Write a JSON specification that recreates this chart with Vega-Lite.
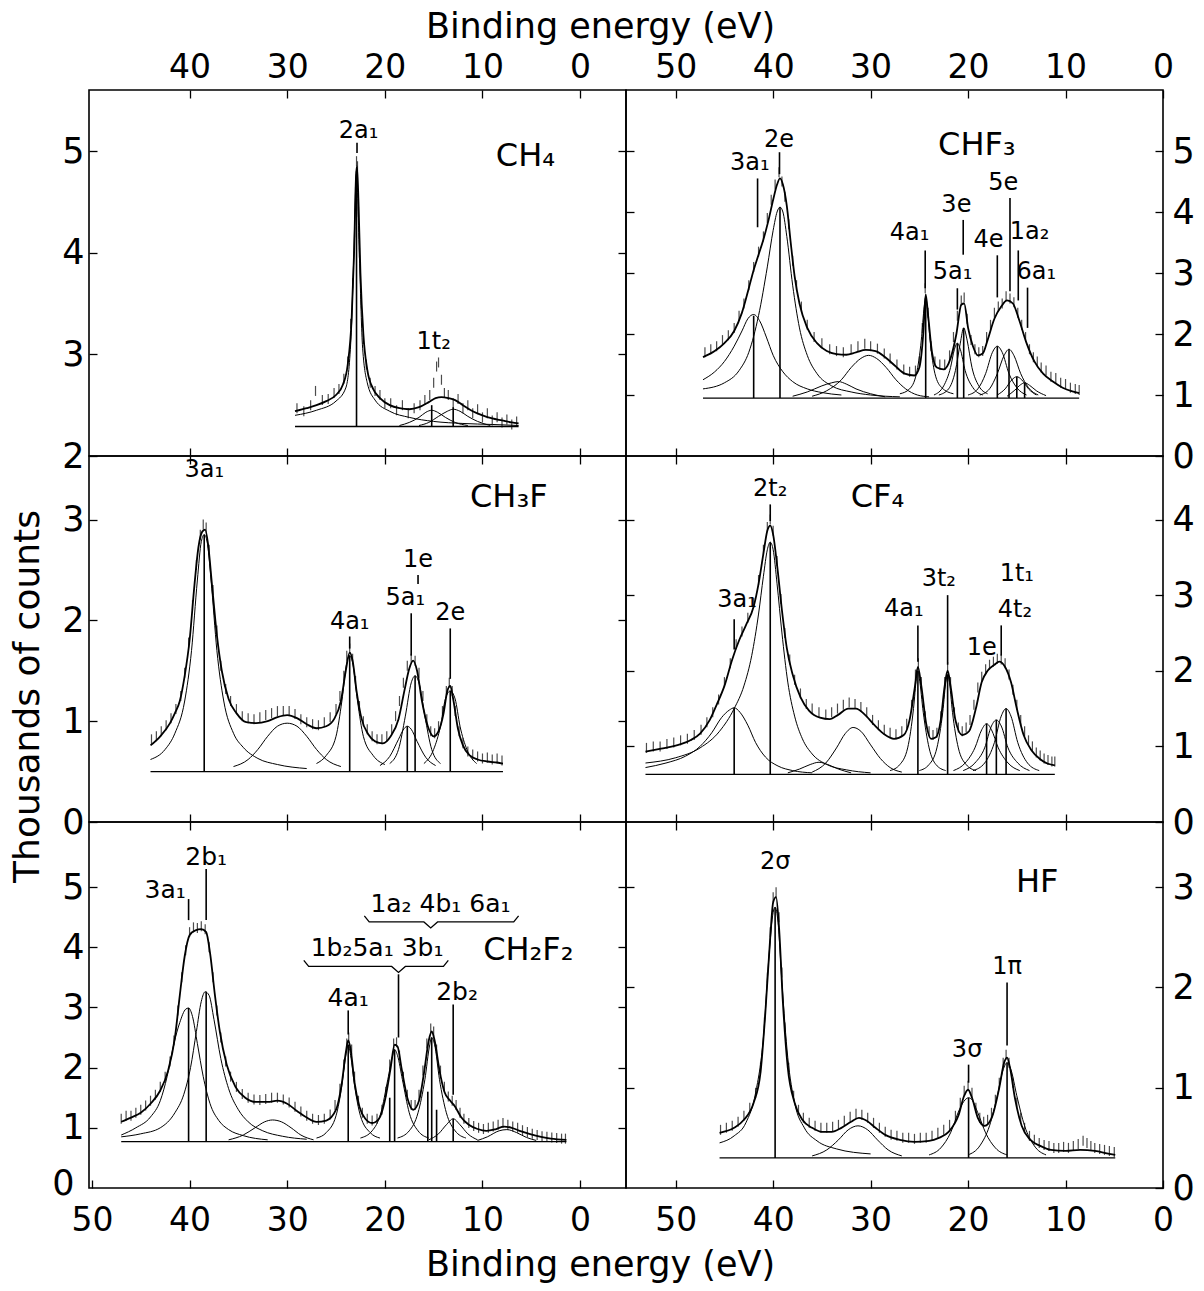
{
"$schema": "https://vega.github.io/schema/vega-lite/v6.json",
"padding": {"left": 8, "top": 8, "right": 5, "bottom": 5},
"background": "white",
"columns": 2,
"spacing": 0,
"bounds": "flush",
"config": {
 "view": {"stroke": "black", "strokeWidth": 1.6},
 "mark": {"color": "black"},
 "axis": {"domain": false, "grid": false, "ticks": true, "tickColor": "black", "tickWidth": 1.3, "tickSize": -8, "labelColor": "black", "labelFont": "DejaVu Sans", "labelFontSize": 33, "titleFont": "DejaVu Sans", "titleFontSize": 35, "titleFontWeight": "normal", "titleColor": "black", "labelOverlap": false, "labelFlush": false, "labelBound": false},
 "axisY": {"labelFontSize": 35},
 "text": {"font": "DejaVu Sans"}
},
"datasets": {
"ch4": [
{"k":"b","e":29.2,"e2":6.3,"v":2.29},
{"k":"f","e":29.2,"v":2.44},{"k":"f","e":28,"v":2.47},{"k":"f","e":27,"v":2.5},{"k":"f","e":26,"v":2.54},{"k":"f","e":25,"v":2.6},{"k":"f","e":24.3,"v":2.7},{"k":"f","e":23.8,"v":2.9},{"k":"f","e":23.4,"v":3.35},{"k":"f","e":23.15,"v":4.0},{"k":"f","e":22.95,"v":4.75},{"k":"f","e":22.85,"v":4.85},{"k":"f","e":22.7,"v":4.5},{"k":"f","e":22.5,"v":3.8},{"k":"f","e":22.2,"v":3.2},{"k":"f","e":21.8,"v":2.85},{"k":"f","e":21.2,"v":2.66},{"k":"f","e":20.5,"v":2.57},{"k":"f","e":19.5,"v":2.5},{"k":"f","e":18.5,"v":2.47},{"k":"f","e":17.5,"v":2.46},{"k":"f","e":16.5,"v":2.48},{"k":"f","e":15.5,"v":2.53},{"k":"f","e":14.8,"v":2.57},{"k":"f","e":14.2,"v":2.58},{"k":"f","e":13.5,"v":2.57},{"k":"f","e":12.8,"v":2.55},{"k":"f","e":12,"v":2.5},{"k":"f","e":11,"v":2.44},{"k":"f","e":10,"v":2.4},{"k":"f","e":9,"v":2.37},{"k":"f","e":8,"v":2.35},{"k":"f","e":7,"v":2.33},{"k":"f","e":6.3,"v":2.32},
{"k":"c","i":"a","e":29.2,"v":2.4},{"k":"c","i":"a","e":27,"v":2.45},{"k":"c","i":"a","e":25,"v":2.54},{"k":"c","i":"a","e":24,"v":2.67},{"k":"c","i":"a","e":23.5,"v":3.1},{"k":"c","i":"a","e":23.2,"v":3.9},{"k":"c","i":"a","e":22.9,"v":4.78},{"k":"c","i":"a","e":22.6,"v":3.95},{"k":"c","i":"a","e":22.3,"v":3.1},{"k":"c","i":"a","e":21.8,"v":2.72},{"k":"c","i":"a","e":21,"v":2.55},{"k":"c","i":"a","e":19.5,"v":2.44},{"k":"c","i":"a","e":17.5,"v":2.38},{"k":"c","i":"a","e":15,"v":2.34},{"k":"c","i":"a","e":12,"v":2.32},{"k":"c","i":"a","e":9,"v":2.31},{"k":"c","i":"a","e":6.3,"v":2.3},
{"k":"c","i":"b","e":18.5,"v":2.3},{"k":"c","i":"b","e":17.5,"v":2.33},{"k":"c","i":"b","e":16.5,"v":2.38},{"k":"c","i":"b","e":15.8,"v":2.43},{"k":"c","i":"b","e":15.2,"v":2.45},{"k":"c","i":"b","e":14.6,"v":2.43},{"k":"c","i":"b","e":13.8,"v":2.38},{"k":"c","i":"b","e":12.8,"v":2.33},{"k":"c","i":"b","e":11.5,"v":2.3},
{"k":"c","i":"c","e":16.5,"v":2.3},{"k":"c","i":"c","e":15.5,"v":2.33},{"k":"c","i":"c","e":14.5,"v":2.39},{"k":"c","i":"c","e":13.6,"v":2.44},{"k":"c","i":"c","e":13.0,"v":2.46},{"k":"c","i":"c","e":12.3,"v":2.44},{"k":"c","i":"c","e":11.5,"v":2.39},{"k":"c","i":"c","e":10.5,"v":2.34},{"k":"c","i":"c","e":9.2,"v":2.3},
{"k":"p","e":29.0,"v":2.47},{"k":"p","e":28.3,"v":2.44},{"k":"p","e":27.6,"v":2.5},{"k":"p","e":27.1,"v":2.64},{"k":"p","e":26.4,"v":2.55},{"k":"p","e":25.8,"v":2.56},{"k":"p","e":25.2,"v":2.62},{"k":"p","e":24.7,"v":2.66},{"k":"p","e":24.2,"v":2.76},{"k":"p","e":23.8,"v":2.93},{"k":"p","e":23.5,"v":3.3},{"k":"p","e":23.3,"v":3.7},{"k":"p","e":23.1,"v":4.2},{"k":"p","e":23.0,"v":4.6},{"k":"p","e":22.9,"v":4.9},{"k":"p","e":22.8,"v":4.85},{"k":"p","e":22.7,"v":4.4},{"k":"p","e":22.6,"v":4.0},{"k":"p","e":22.4,"v":3.5},{"k":"p","e":22.2,"v":3.15},{"k":"p","e":21.9,"v":2.9},{"k":"p","e":21.5,"v":2.72},{"k":"p","e":21.0,"v":2.64},{"k":"p","e":20.5,"v":2.6},{"k":"p","e":20,"v":2.52},{"k":"p","e":19.4,"v":2.52},{"k":"p","e":18.8,"v":2.45},{"k":"p","e":18.2,"v":2.5},{"k":"p","e":17.6,"v":2.42},{"k":"p","e":17,"v":2.47},{"k":"p","e":16.4,"v":2.5},{"k":"p","e":15.9,"v":2.55},{"k":"p","e":15.4,"v":2.6},{"k":"p","e":15,"v":2.72},{"k":"p","e":14.7,"v":2.88},{"k":"p","e":14.5,"v":2.92},{"k":"p","e":14.2,"v":2.75},{"k":"p","e":13.9,"v":2.62},{"k":"p","e":13.5,"v":2.6},{"k":"p","e":13,"v":2.52},{"k":"p","e":12.5,"v":2.56},{"k":"p","e":12,"v":2.47},{"k":"p","e":11.5,"v":2.5},{"k":"p","e":11,"v":2.42},{"k":"p","e":10.5,"v":2.46},{"k":"p","e":10,"v":2.38},{"k":"p","e":9.5,"v":2.42},{"k":"p","e":9,"v":2.35},{"k":"p","e":8.5,"v":2.38},{"k":"p","e":8,"v":2.33},{"k":"p","e":7.5,"v":2.36},{"k":"p","e":7,"v":2.31},{"k":"p","e":6.5,"v":2.34},
{"k":"l","e":22.9,"v":2.29,"v2":4.8},{"k":"l","e":15.2,"v":2.29,"v2":2.5},{"k":"l","e":13.0,"v":2.29,"v2":2.48},{"k":"l","e":22.85,"v":5.08,"v2":4.98},
{"k":"t","e":22.7,"v":5.2,"t":"2a₁"},{"k":"t","e":15.0,"v":3.12,"t":"1t₂"},
{"k":"m","e":5.6,"v":4.95,"t":"CH₄"}
],
"chf3": [
{"k":"b","e":47.2,"e2":8.6,"v":0.95},
{"k":"f","e":47.2,"v":1.62},{"k":"f","e":46,"v":1.72},{"k":"f","e":45,"v":1.85},{"k":"f","e":44,"v":2.05},{"k":"f","e":43.2,"v":2.35},{"k":"f","e":42.5,"v":2.75},{"k":"f","e":42,"v":3.05},{"k":"f","e":41.5,"v":3.3},{"k":"f","e":41,"v":3.55},{"k":"f","e":40.5,"v":3.85},{"k":"f","e":40,"v":4.2},{"k":"f","e":39.6,"v":4.45},{"k":"f","e":39.3,"v":4.55},{"k":"f","e":39.0,"v":4.45},{"k":"f","e":38.6,"v":4.1},{"k":"f","e":38.2,"v":3.5},{"k":"f","e":37.8,"v":2.95},{"k":"f","e":37.3,"v":2.5},{"k":"f","e":36.5,"v":2.1},{"k":"f","e":35.5,"v":1.85},{"k":"f","e":34.5,"v":1.72},{"k":"f","e":33.5,"v":1.67},{"k":"f","e":32.5,"v":1.66},{"k":"f","e":31.5,"v":1.7},{"k":"f","e":30.5,"v":1.74},{"k":"f","e":29.5,"v":1.72},{"k":"f","e":28.5,"v":1.62},{"k":"f","e":27.5,"v":1.48},{"k":"f","e":26.5,"v":1.35},{"k":"f","e":25.5,"v":1.32},{"k":"f","e":25,"v":1.45},{"k":"f","e":24.6,"v":2.0},{"k":"f","e":24.35,"v":2.65},{"k":"f","e":24.1,"v":2.3},{"k":"f","e":23.7,"v":1.7},{"k":"f","e":23.2,"v":1.45},{"k":"f","e":22.5,"v":1.42},{"k":"f","e":21.8,"v":1.6},{"k":"f","e":21.2,"v":2.0},{"k":"f","e":20.7,"v":2.48},{"k":"f","e":20.4,"v":2.5},{"k":"f","e":20.0,"v":2.1},{"k":"f","e":19.5,"v":1.8},{"k":"f","e":19.0,"v":1.65},{"k":"f","e":18.5,"v":1.68},{"k":"f","e":18.0,"v":1.9},{"k":"f","e":17.3,"v":2.25},{"k":"f","e":16.6,"v":2.45},{"k":"f","e":16.0,"v":2.55},{"k":"f","e":15.4,"v":2.5},{"k":"f","e":14.8,"v":2.25},{"k":"f","e":14.0,"v":1.85},{"k":"f","e":13.2,"v":1.55},{"k":"f","e":12.3,"v":1.35},{"k":"f","e":11.3,"v":1.22},{"k":"f","e":10.3,"v":1.12},{"k":"f","e":9.3,"v":1.06},{"k":"f","e":8.6,"v":1.03},
{"k":"c","i":"a","e":47.2,"v":1.25},{"k":"c","i":"a","e":46,"v":1.38},{"k":"c","i":"a","e":45,"v":1.55},{"k":"c","i":"a","e":44,"v":1.8},{"k":"c","i":"a","e":43.2,"v":2.05},{"k":"c","i":"a","e":42.6,"v":2.25},{"k":"c","i":"a","e":42.0,"v":2.32},{"k":"c","i":"a","e":41.4,"v":2.22},{"k":"c","i":"a","e":40.7,"v":1.95},{"k":"c","i":"a","e":40,"v":1.65},{"k":"c","i":"a","e":39,"v":1.38},{"k":"c","i":"a","e":38,"v":1.22},{"k":"c","i":"a","e":36.5,"v":1.1},{"k":"c","i":"a","e":35,"v":1.04},{"k":"c","i":"a","e":33,"v":1.0},
{"k":"c","i":"b","e":47.2,"v":1.1},{"k":"c","i":"b","e":45,"v":1.2},{"k":"c","i":"b","e":43.5,"v":1.4},{"k":"c","i":"b","e":42.5,"v":1.7},{"k":"c","i":"b","e":41.5,"v":2.3},{"k":"c","i":"b","e":40.6,"v":3.1},{"k":"c","i":"b","e":40,"v":3.7},{"k":"c","i":"b","e":39.6,"v":4.0},{"k":"c","i":"b","e":39.3,"v":4.08},{"k":"c","i":"b","e":39.0,"v":4.0},{"k":"c","i":"b","e":38.6,"v":3.6},{"k":"c","i":"b","e":38.0,"v":2.8},{"k":"c","i":"b","e":37.3,"v":2.1},{"k":"c","i":"b","e":36.5,"v":1.65},{"k":"c","i":"b","e":35.5,"v":1.35},{"k":"c","i":"b","e":34,"v":1.15},{"k":"c","i":"b","e":32,"v":1.05},{"k":"c","i":"b","e":30,"v":1.0},{"k":"c","i":"b","e":27,"v":0.97},
{"k":"c","i":"c","e":38,"v":0.98},{"k":"c","i":"c","e":36.5,"v":1.05},{"k":"c","i":"c","e":35,"v":1.15},{"k":"c","i":"c","e":34,"v":1.2},{"k":"c","i":"c","e":33.3,"v":1.22},{"k":"c","i":"c","e":32.5,"v":1.18},{"k":"c","i":"c","e":31.5,"v":1.1},{"k":"c","i":"c","e":30,"v":1.02},{"k":"c","i":"c","e":28.5,"v":0.97},
{"k":"c","i":"d","e":36,"v":0.98},{"k":"c","i":"d","e":34.5,"v":1.07},{"k":"c","i":"d","e":33,"v":1.25},{"k":"c","i":"d","e":32,"v":1.45},{"k":"c","i":"d","e":31,"v":1.6},{"k":"c","i":"d","e":30.2,"v":1.65},{"k":"c","i":"d","e":29.4,"v":1.6},{"k":"c","i":"d","e":28.4,"v":1.45},{"k":"c","i":"d","e":27.4,"v":1.25},{"k":"c","i":"d","e":26.4,"v":1.1},{"k":"c","i":"d","e":25.2,"v":1.0},{"k":"c","i":"d","e":24,"v":0.97},
{"k":"c","i":"e","e":27,"v":1.02},{"k":"c","i":"e","e":26,"v":1.1},{"k":"c","i":"e","e":25.3,"v":1.35},{"k":"c","i":"e","e":24.8,"v":1.9},{"k":"c","i":"e","e":24.5,"v":2.45},{"k":"c","i":"e","e":24.35,"v":2.6},{"k":"c","i":"e","e":24.2,"v":2.45},{"k":"c","i":"e","e":23.9,"v":1.9},{"k":"c","i":"e","e":23.4,"v":1.35},{"k":"c","i":"e","e":22.7,"v":1.12},{"k":"c","i":"e","e":21.5,"v":1.02},
{"k":"c","i":"g","e":23.5,"v":1.0},{"k":"c","i":"g","e":22.5,"v":1.15},{"k":"c","i":"g","e":21.8,"v":1.45},{"k":"c","i":"g","e":21.4,"v":1.75},{"k":"c","i":"g","e":21.1,"v":1.85},{"k":"c","i":"g","e":20.8,"v":1.75},{"k":"c","i":"g","e":20.3,"v":1.4},{"k":"c","i":"g","e":19.5,"v":1.12},{"k":"c","i":"g","e":18.5,"v":1.0},
{"k":"c","i":"h","e":23,"v":1.0},{"k":"c","i":"h","e":22,"v":1.1},{"k":"c","i":"h","e":21.3,"v":1.4},{"k":"c","i":"h","e":20.8,"v":1.85},{"k":"c","i":"h","e":20.45,"v":2.1},{"k":"c","i":"h","e":20.1,"v":1.9},{"k":"c","i":"h","e":19.6,"v":1.45},{"k":"c","i":"h","e":18.9,"v":1.15},{"k":"c","i":"h","e":18,"v":1.02},
{"k":"c","i":"j","e":20,"v":1.0},{"k":"c","i":"j","e":19,"v":1.1},{"k":"c","i":"j","e":18.2,"v":1.35},{"k":"c","i":"j","e":17.5,"v":1.7},{"k":"c","i":"j","e":17.0,"v":1.8},{"k":"c","i":"j","e":16.5,"v":1.7},{"k":"c","i":"j","e":15.8,"v":1.35},{"k":"c","i":"j","e":15,"v":1.12},{"k":"c","i":"j","e":14,"v":1.0},
{"k":"c","i":"m","e":18.8,"v":1.0},{"k":"c","i":"m","e":17.8,"v":1.1},{"k":"c","i":"m","e":17,"v":1.35},{"k":"c","i":"m","e":16.3,"v":1.65},{"k":"c","i":"m","e":15.8,"v":1.75},{"k":"c","i":"m","e":15.3,"v":1.65},{"k":"c","i":"m","e":14.6,"v":1.35},{"k":"c","i":"m","e":13.8,"v":1.12},{"k":"c","i":"m","e":12.8,"v":1.0},
{"k":"c","i":"n","e":17,"v":1.0},{"k":"c","i":"n","e":16.2,"v":1.1},{"k":"c","i":"n","e":15.5,"v":1.25},{"k":"c","i":"n","e":15,"v":1.3},{"k":"c","i":"n","e":14.5,"v":1.25},{"k":"c","i":"n","e":13.8,"v":1.1},{"k":"c","i":"n","e":13,"v":1.0},
{"k":"c","i":"o","e":16,"v":0.98},{"k":"c","i":"o","e":15.2,"v":1.08},{"k":"c","i":"o","e":14.6,"v":1.17},{"k":"c","i":"o","e":14.2,"v":1.2},{"k":"c","i":"o","e":13.7,"v":1.16},{"k":"c","i":"o","e":13,"v":1.07},{"k":"c","i":"o","e":12,"v":0.99},
{"k":"p","e":47.0,"v":1.7},{"k":"p","e":46.4,"v":1.75},{"k":"p","e":45.8,"v":1.8},{"k":"p","e":45.2,"v":1.9},{"k":"p","e":44.6,"v":1.98},{"k":"p","e":44.0,"v":2.1},{"k":"p","e":43.5,"v":2.3},{"k":"p","e":43.0,"v":2.5},{"k":"p","e":42.5,"v":2.8},{"k":"p","e":42.0,"v":3.1},{"k":"p","e":41.5,"v":3.35},{"k":"p","e":41.0,"v":3.6},{"k":"p","e":40.6,"v":3.9},{"k":"p","e":40.2,"v":4.2},{"k":"p","e":39.8,"v":4.45},{"k":"p","e":39.4,"v":4.65},{"k":"p","e":39.1,"v":4.5},{"k":"p","e":38.8,"v":4.25},{"k":"p","e":38.4,"v":3.8},{"k":"p","e":38.0,"v":3.2},{"k":"p","e":37.6,"v":2.8},{"k":"p","e":37.1,"v":2.45},{"k":"p","e":36.5,"v":2.15},{"k":"p","e":35.8,"v":1.95},{"k":"p","e":35.0,"v":1.85},{"k":"p","e":34.2,"v":1.75},{"k":"p","e":33.5,"v":1.72},{"k":"p","e":32.8,"v":1.7},{"k":"p","e":32.0,"v":1.75},{"k":"p","e":31.3,"v":1.8},{"k":"p","e":30.6,"v":1.84},{"k":"p","e":30.0,"v":1.8},{"k":"p","e":29.3,"v":1.76},{"k":"p","e":28.6,"v":1.68},{"k":"p","e":28.0,"v":1.6},{"k":"p","e":27.3,"v":1.5},{"k":"p","e":26.6,"v":1.42},{"k":"p","e":26.0,"v":1.38},{"k":"p","e":25.4,"v":1.4},{"k":"p","e":25.0,"v":1.55},{"k":"p","e":24.7,"v":2.1},{"k":"p","e":24.4,"v":2.75},{"k":"p","e":24.1,"v":2.35},{"k":"p","e":23.8,"v":1.8},{"k":"p","e":23.4,"v":1.55},{"k":"p","e":22.9,"v":1.5},{"k":"p","e":22.4,"v":1.5},{"k":"p","e":21.9,"v":1.65},{"k":"p","e":21.5,"v":1.95},{"k":"p","e":21.1,"v":2.3},{"k":"p","e":20.7,"v":2.55},{"k":"p","e":20.4,"v":2.6},{"k":"p","e":20.1,"v":2.25},{"k":"p","e":19.7,"v":1.9},{"k":"p","e":19.3,"v":1.75},{"k":"p","e":18.9,"v":1.7},{"k":"p","e":18.5,"v":1.72},{"k":"p","e":18.1,"v":1.95},{"k":"p","e":17.7,"v":2.15},{"k":"p","e":17.3,"v":2.35},{"k":"p","e":16.9,"v":2.45},{"k":"p","e":16.5,"v":2.5},{"k":"p","e":16.1,"v":2.62},{"k":"p","e":15.7,"v":2.58},{"k":"p","e":15.3,"v":2.52},{"k":"p","e":14.9,"v":2.35},{"k":"p","e":14.5,"v":2.15},{"k":"p","e":14.1,"v":1.95},{"k":"p","e":13.7,"v":1.75},{"k":"p","e":13.3,"v":1.62},{"k":"p","e":12.9,"v":1.55},{"k":"p","e":12.5,"v":1.45},{"k":"p","e":12.0,"v":1.4},{"k":"p","e":11.5,"v":1.3},{"k":"p","e":11.0,"v":1.28},{"k":"p","e":10.5,"v":1.2},{"k":"p","e":10.0,"v":1.18},{"k":"p","e":9.5,"v":1.12},{"k":"p","e":9.0,"v":1.1},{"k":"p","e":8.6,"v":1.08},
{"k":"l","e":42.0,"v":0.95,"v2":2.3},{"k":"l","e":39.3,"v":0.95,"v2":4.08},{"k":"l","e":24.35,"v":0.95,"v2":2.6},{"k":"l","e":21.1,"v":0.95,"v2":1.85},{"k":"l","e":20.45,"v":0.95,"v2":2.1},{"k":"l","e":17.0,"v":0.95,"v2":1.8},{"k":"l","e":15.8,"v":0.95,"v2":1.75},{"k":"l","e":15.0,"v":0.95,"v2":1.3},{"k":"l","e":14.2,"v":0.95,"v2":1.2},
{"k":"l","e":41.6,"v":4.55,"v2":3.75},{"k":"l","e":39.35,"v":4.98,"v2":4.62},{"k":"l","e":24.4,"v":3.37,"v2":2.75},{"k":"l","e":20.5,"v":3.87,"v2":3.3},{"k":"l","e":21.1,"v":2.75,"v2":2.4},{"k":"l","e":15.7,"v":4.23,"v2":2.7},{"k":"l","e":17.0,"v":3.29,"v2":2.6},{"k":"l","e":14.85,"v":3.37,"v2":2.55},{"k":"l","e":13.9,"v":2.76,"v2":2.1},
{"k":"t","e":42.4,"v":4.8,"t":"3a₁"},{"k":"t","e":39.4,"v":5.18,"t":"2e"},{"k":"t","e":26.0,"v":3.65,"t":"4a₁"},{"k":"t","e":21.2,"v":4.11,"t":"3e"},{"k":"t","e":21.6,"v":3.01,"t":"5a₁"},{"k":"t","e":16.4,"v":4.47,"t":"5e"},{"k":"t","e":17.9,"v":3.54,"t":"4e"},{"k":"t","e":13.7,"v":3.67,"t":"1a₂"},{"k":"t","e":13.0,"v":3.01,"t":"6a₁"},
{"k":"m","e":19.1,"v":5.1,"t":"CHF₃"}
],
"ch3f": [
{"k":"b","e":44.0,"e2":7.9,"v":0.5},
{"k":"f","e":44.0,"v":0.76},{"k":"f","e":43.0,"v":0.85},{"k":"f","e":42.0,"v":0.98},{"k":"f","e":41.5,"v":1.08},{"k":"f","e":41.0,"v":1.2},{"k":"f","e":40.5,"v":1.45},{"k":"f","e":40.0,"v":1.8},{"k":"f","e":39.5,"v":2.35},{"k":"f","e":39.1,"v":2.72},{"k":"f","e":38.7,"v":2.88},{"k":"f","e":38.4,"v":2.9},{"k":"f","e":38.1,"v":2.75},{"k":"f","e":37.7,"v":2.35},{"k":"f","e":37.2,"v":1.85},{"k":"f","e":36.7,"v":1.5},{"k":"f","e":36.0,"v":1.22},{"k":"f","e":35.2,"v":1.08},{"k":"f","e":34.2,"v":0.99},{"k":"f","e":33.2,"v":0.98},{"k":"f","e":32.0,"v":1.0},{"k":"f","e":31.0,"v":1.04},{"k":"f","e":30.0,"v":1.06},{"k":"f","e":29.0,"v":1.03},{"k":"f","e":28.0,"v":0.97},{"k":"f","e":27.0,"v":0.93},{"k":"f","e":26.0,"v":0.95},{"k":"f","e":25.2,"v":1.02},{"k":"f","e":24.5,"v":1.2},{"k":"f","e":24.0,"v":1.5},{"k":"f","e":23.6,"v":1.68},{"k":"f","e":23.3,"v":1.6},{"k":"f","e":22.9,"v":1.3},{"k":"f","e":22.4,"v":1.03},{"k":"f","e":21.7,"v":0.87},{"k":"f","e":21.0,"v":0.8},{"k":"f","e":20.2,"v":0.78},{"k":"f","e":19.4,"v":0.85},{"k":"f","e":18.6,"v":1.02},{"k":"f","e":18.0,"v":1.3},{"k":"f","e":17.5,"v":1.52},{"k":"f","e":17.1,"v":1.6},{"k":"f","e":16.7,"v":1.5},{"k":"f","e":16.2,"v":1.2},{"k":"f","e":15.6,"v":0.95},{"k":"f","e":15.0,"v":0.85},{"k":"f","e":14.5,"v":0.9},{"k":"f","e":14.0,"v":1.07},{"k":"f","e":13.6,"v":1.3},{"k":"f","e":13.3,"v":1.35},{"k":"f","e":13.0,"v":1.22},{"k":"f","e":12.5,"v":0.92},{"k":"f","e":12.0,"v":0.76},{"k":"f","e":11.3,"v":0.66},{"k":"f","e":10.5,"v":0.62},{"k":"f","e":9.5,"v":0.6},{"k":"f","e":8.5,"v":0.59},{"k":"f","e":7.9,"v":0.58},
{"k":"c","i":"a","e":44,"v":0.62},{"k":"c","i":"a","e":42.5,"v":0.72},{"k":"c","i":"a","e":41.5,"v":0.88},{"k":"c","i":"a","e":40.5,"v":1.2},{"k":"c","i":"a","e":39.8,"v":1.7},{"k":"c","i":"a","e":39.2,"v":2.4},{"k":"c","i":"a","e":38.8,"v":2.78},{"k":"c","i":"a","e":38.5,"v":2.85},{"k":"c","i":"a","e":38.2,"v":2.78},{"k":"c","i":"a","e":37.8,"v":2.4},{"k":"c","i":"a","e":37.2,"v":1.7},{"k":"c","i":"a","e":36.5,"v":1.2},{"k":"c","i":"a","e":35.5,"v":0.88},{"k":"c","i":"a","e":34.5,"v":0.74},{"k":"c","i":"a","e":33,"v":0.63},{"k":"c","i":"a","e":31,"v":0.57},{"k":"c","i":"a","e":28,"v":0.53},
{"k":"c","i":"b","e":35.5,"v":0.55},{"k":"c","i":"b","e":34,"v":0.62},{"k":"c","i":"b","e":33,"v":0.72},{"k":"c","i":"b","e":32,"v":0.85},{"k":"c","i":"b","e":31,"v":0.95},{"k":"c","i":"b","e":30,"v":0.98},{"k":"c","i":"b","e":29,"v":0.95},{"k":"c","i":"b","e":28,"v":0.85},{"k":"c","i":"b","e":27,"v":0.72},{"k":"c","i":"b","e":26,"v":0.62},{"k":"c","i":"b","e":24.5,"v":0.55},
{"k":"c","i":"c","e":27,"v":0.58},{"k":"c","i":"c","e":26,"v":0.66},{"k":"c","i":"c","e":25,"v":0.85},{"k":"c","i":"c","e":24.4,"v":1.2},{"k":"c","i":"c","e":23.9,"v":1.58},{"k":"c","i":"c","e":23.6,"v":1.65},{"k":"c","i":"c","e":23.3,"v":1.58},{"k":"c","i":"c","e":22.8,"v":1.2},{"k":"c","i":"c","e":22.2,"v":0.85},{"k":"c","i":"c","e":21.2,"v":0.66},{"k":"c","i":"c","e":20,"v":0.57},
{"k":"c","i":"d","e":20.5,"v":0.56},{"k":"c","i":"d","e":19.5,"v":0.65},{"k":"c","i":"d","e":18.6,"v":0.82},{"k":"c","i":"d","e":18.0,"v":0.93},{"k":"c","i":"d","e":17.7,"v":0.95},{"k":"c","i":"d","e":17.3,"v":0.92},{"k":"c","i":"d","e":16.7,"v":0.8},{"k":"c","i":"d","e":15.8,"v":0.64},{"k":"c","i":"d","e":14.8,"v":0.56},
{"k":"c","i":"g","e":19.5,"v":0.58},{"k":"c","i":"g","e":18.6,"v":0.72},{"k":"c","i":"g","e":17.9,"v":1.05},{"k":"c","i":"g","e":17.3,"v":1.38},{"k":"c","i":"g","e":16.9,"v":1.45},{"k":"c","i":"g","e":16.5,"v":1.38},{"k":"c","i":"g","e":15.9,"v":1.05},{"k":"c","i":"g","e":15.2,"v":0.72},{"k":"c","i":"g","e":14.3,"v":0.58},
{"k":"c","i":"h","e":16,"v":0.58},{"k":"c","i":"h","e":15.0,"v":0.72},{"k":"c","i":"h","e":14.3,"v":0.95},{"k":"c","i":"h","e":13.8,"v":1.22},{"k":"c","i":"h","e":13.3,"v":1.3},{"k":"c","i":"h","e":12.8,"v":1.22},{"k":"c","i":"h","e":12.3,"v":0.95},{"k":"c","i":"h","e":11.6,"v":0.72},{"k":"c","i":"h","e":10.6,"v":0.58},
{"k":"p","e":43.9,"v":0.82},{"k":"p","e":43.4,"v":0.85},{"k":"p","e":42.9,"v":0.9},{"k":"p","e":42.4,"v":0.96},{"k":"p","e":41.9,"v":1.03},{"k":"p","e":41.4,"v":1.12},{"k":"p","e":40.9,"v":1.25},{"k":"p","e":40.5,"v":1.48},{"k":"p","e":40.1,"v":1.78},{"k":"p","e":39.7,"v":2.15},{"k":"p","e":39.3,"v":2.55},{"k":"p","e":38.9,"v":2.85},{"k":"p","e":38.6,"v":2.95},{"k":"p","e":38.3,"v":2.92},{"k":"p","e":38.0,"v":2.7},{"k":"p","e":37.6,"v":2.3},{"k":"p","e":37.2,"v":1.9},{"k":"p","e":36.8,"v":1.55},{"k":"p","e":36.3,"v":1.32},{"k":"p","e":35.8,"v":1.2},{"k":"p","e":35.2,"v":1.12},{"k":"p","e":34.6,"v":1.05},{"k":"p","e":34.0,"v":1.03},{"k":"p","e":33.4,"v":1.02},{"k":"p","e":32.8,"v":1.04},{"k":"p","e":32.2,"v":1.06},{"k":"p","e":31.6,"v":1.08},{"k":"p","e":31.0,"v":1.1},{"k":"p","e":30.4,"v":1.1},{"k":"p","e":29.8,"v":1.1},{"k":"p","e":29.2,"v":1.07},{"k":"p","e":28.6,"v":1.02},{"k":"p","e":28.0,"v":0.99},{"k":"p","e":27.4,"v":0.97},{"k":"p","e":26.8,"v":0.96},{"k":"p","e":26.2,"v":0.99},{"k":"p","e":25.6,"v":1.04},{"k":"p","e":25.0,"v":1.12},{"k":"p","e":24.6,"v":1.25},{"k":"p","e":24.2,"v":1.45},{"k":"p","e":23.9,"v":1.65},{"k":"p","e":23.6,"v":1.72},{"k":"p","e":23.3,"v":1.62},{"k":"p","e":23.0,"v":1.4},{"k":"p","e":22.6,"v":1.15},{"k":"p","e":22.2,"v":1.0},{"k":"p","e":21.8,"v":0.92},{"k":"p","e":21.3,"v":0.85},{"k":"p","e":20.8,"v":0.82},{"k":"p","e":20.3,"v":0.82},{"k":"p","e":19.8,"v":0.85},{"k":"p","e":19.3,"v":0.92},{"k":"p","e":18.9,"v":1.05},{"k":"p","e":18.5,"v":1.2},{"k":"p","e":18.1,"v":1.38},{"k":"p","e":17.7,"v":1.55},{"k":"p","e":17.3,"v":1.62},{"k":"p","e":16.9,"v":1.6},{"k":"p","e":16.5,"v":1.48},{"k":"p","e":16.1,"v":1.25},{"k":"p","e":15.7,"v":1.02},{"k":"p","e":15.3,"v":0.9},{"k":"p","e":14.9,"v":0.88},{"k":"p","e":14.5,"v":0.95},{"k":"p","e":14.1,"v":1.1},{"k":"p","e":13.7,"v":1.3},{"k":"p","e":13.4,"v":1.38},{"k":"p","e":13.1,"v":1.3},{"k":"p","e":12.8,"v":1.1},{"k":"p","e":12.4,"v":0.9},{"k":"p","e":12.0,"v":0.78},{"k":"p","e":11.5,"v":0.7},{"k":"p","e":11.0,"v":0.67},{"k":"p","e":10.5,"v":0.65},{"k":"p","e":10.0,"v":0.63},{"k":"p","e":9.5,"v":0.64},{"k":"p","e":9.0,"v":0.62},{"k":"p","e":8.5,"v":0.63},{"k":"p","e":8.0,"v":0.61},
{"k":"l","e":38.5,"v":0.5,"v2":2.85},{"k":"l","e":23.6,"v":0.5,"v2":1.65},{"k":"l","e":17.7,"v":0.5,"v2":0.95},{"k":"l","e":16.9,"v":0.5,"v2":1.45},{"k":"l","e":13.3,"v":0.5,"v2":1.3},
{"k":"l","e":23.6,"v":1.84,"v2":1.72},{"k":"l","e":16.6,"v":2.45,"v2":2.36},{"k":"l","e":17.3,"v":2.07,"v2":1.65},{"k":"l","e":13.3,"v":1.92,"v2":1.42},
{"k":"t","e":38.5,"v":3.49,"t":"3a₁"},{"k":"t","e":23.6,"v":1.98,"t":"4a₁"},{"k":"t","e":16.6,"v":2.6,"t":"1e"},{"k":"t","e":17.9,"v":2.22,"t":"5a₁"},{"k":"t","e":13.3,"v":2.07,"t":"2e"},
{"k":"m","e":7.3,"v":3.22,"t":"CH₃F"}
],
"cf4": [
{"k":"b","e":53.1,"e2":11.1,"v":0.63},
{"k":"f","e":53.1,"v":0.93},{"k":"f","e":51.5,"v":0.97},{"k":"f","e":50,"v":1.01},{"k":"f","e":48.5,"v":1.08},{"k":"f","e":47.5,"v":1.17},{"k":"f","e":46.5,"v":1.35},{"k":"f","e":45.8,"v":1.55},{"k":"f","e":45.0,"v":1.8},{"k":"f","e":44.2,"v":2.15},{"k":"f","e":43.5,"v":2.4},{"k":"f","e":42.8,"v":2.6},{"k":"f","e":42.0,"v":2.85},{"k":"f","e":41.5,"v":3.15},{"k":"f","e":41.0,"v":3.55},{"k":"f","e":40.6,"v":3.85},{"k":"f","e":40.3,"v":3.92},{"k":"f","e":40.0,"v":3.8},{"k":"f","e":39.6,"v":3.4},{"k":"f","e":39.1,"v":2.8},{"k":"f","e":38.6,"v":2.3},{"k":"f","e":38.0,"v":1.95},{"k":"f","e":37.2,"v":1.65},{"k":"f","e":36.3,"v":1.47},{"k":"f","e":35.2,"v":1.38},{"k":"f","e":34.2,"v":1.36},{"k":"f","e":33.3,"v":1.42},{"k":"f","e":32.3,"v":1.5},{"k":"f","e":31.5,"v":1.5},{"k":"f","e":30.6,"v":1.42},{"k":"f","e":29.6,"v":1.28},{"k":"f","e":28.6,"v":1.16},{"k":"f","e":27.6,"v":1.1},{"k":"f","e":26.6,"v":1.15},{"k":"f","e":26.0,"v":1.35},{"k":"f","e":25.5,"v":1.75},{"k":"f","e":25.15,"v":2.05},{"k":"f","e":24.8,"v":1.8},{"k":"f","e":24.3,"v":1.3},{"k":"f","e":23.8,"v":1.1},{"k":"f","e":23.3,"v":1.12},{"k":"f","e":22.8,"v":1.35},{"k":"f","e":22.4,"v":1.8},{"k":"f","e":22.1,"v":2.0},{"k":"f","e":21.8,"v":1.8},{"k":"f","e":21.3,"v":1.35},{"k":"f","e":20.6,"v":1.15},{"k":"f","e":19.9,"v":1.2},{"k":"f","e":19.2,"v":1.5},{"k":"f","e":18.6,"v":1.85},{"k":"f","e":18.0,"v":2.0},{"k":"f","e":17.3,"v":2.08},{"k":"f","e":16.8,"v":2.12},{"k":"f","e":16.2,"v":2.05},{"k":"f","e":15.6,"v":1.85},{"k":"f","e":15.0,"v":1.5},{"k":"f","e":14.3,"v":1.15},{"k":"f","e":13.5,"v":0.95},{"k":"f","e":12.6,"v":0.83},{"k":"f","e":11.8,"v":0.77},{"k":"f","e":11.1,"v":0.75},
{"k":"c","i":"a","e":53.1,"v":0.72},{"k":"c","i":"a","e":51,"v":0.78},{"k":"c","i":"a","e":49,"v":0.87},{"k":"c","i":"a","e":47.5,"v":1.0},{"k":"c","i":"a","e":46.3,"v":1.18},{"k":"c","i":"a","e":45.3,"v":1.38},{"k":"c","i":"a","e":44.5,"v":1.48},{"k":"c","i":"a","e":44.0,"v":1.51},{"k":"c","i":"a","e":43.4,"v":1.45},{"k":"c","i":"a","e":42.6,"v":1.28},{"k":"c","i":"a","e":41.8,"v":1.05},{"k":"c","i":"a","e":40.8,"v":0.86},{"k":"c","i":"a","e":39.5,"v":0.74},{"k":"c","i":"a","e":38,"v":0.68},{"k":"c","i":"a","e":36,"v":0.65},
{"k":"c","i":"b","e":53.1,"v":0.78},{"k":"c","i":"b","e":50,"v":0.85},{"k":"c","i":"b","e":47.5,"v":0.98},{"k":"c","i":"b","e":45.5,"v":1.2},{"k":"c","i":"b","e":44,"v":1.5},{"k":"c","i":"b","e":43,"v":1.8},{"k":"c","i":"b","e":42.2,"v":2.2},{"k":"c","i":"b","e":41.5,"v":2.75},{"k":"c","i":"b","e":41,"v":3.25},{"k":"c","i":"b","e":40.6,"v":3.6},{"k":"c","i":"b","e":40.3,"v":3.7},{"k":"c","i":"b","e":40.0,"v":3.6},{"k":"c","i":"b","e":39.6,"v":3.15},{"k":"c","i":"b","e":39.1,"v":2.5},{"k":"c","i":"b","e":38.5,"v":1.85},{"k":"c","i":"b","e":37.8,"v":1.4},{"k":"c","i":"b","e":37.0,"v":1.1},{"k":"c","i":"b","e":36,"v":0.9},{"k":"c","i":"b","e":34.5,"v":0.76},{"k":"c","i":"b","e":32.5,"v":0.69},{"k":"c","i":"b","e":30,"v":0.65},
{"k":"c","i":"c","e":38.5,"v":0.65},{"k":"c","i":"c","e":37.3,"v":0.7},{"k":"c","i":"c","e":36.2,"v":0.76},{"k":"c","i":"c","e":35.3,"v":0.79},{"k":"c","i":"c","e":34.4,"v":0.76},{"k":"c","i":"c","e":33.3,"v":0.7},{"k":"c","i":"c","e":32,"v":0.65},
{"k":"c","i":"d","e":36,"v":0.66},{"k":"c","i":"d","e":34.6,"v":0.78},{"k":"c","i":"d","e":33.5,"v":0.98},{"k":"c","i":"d","e":32.6,"v":1.17},{"k":"c","i":"d","e":31.8,"v":1.25},{"k":"c","i":"d","e":31,"v":1.2},{"k":"c","i":"d","e":30,"v":1.02},{"k":"c","i":"d","e":29,"v":0.84},{"k":"c","i":"d","e":28,"v":0.72},{"k":"c","i":"d","e":26.8,"v":0.66},
{"k":"c","i":"g","e":28,"v":0.68},{"k":"c","i":"g","e":27,"v":0.76},{"k":"c","i":"g","e":26.2,"v":0.98},{"k":"c","i":"g","e":25.6,"v":1.5},{"k":"c","i":"g","e":25.3,"v":1.9},{"k":"c","i":"g","e":25.15,"v":2.0},{"k":"c","i":"g","e":25.0,"v":1.9},{"k":"c","i":"g","e":24.6,"v":1.45},{"k":"c","i":"g","e":24.0,"v":0.98},{"k":"c","i":"g","e":23.3,"v":0.76},{"k":"c","i":"g","e":22.3,"v":0.68},
{"k":"c","i":"h","e":25,"v":0.68},{"k":"c","i":"h","e":24,"v":0.76},{"k":"c","i":"h","e":23.2,"v":0.98},{"k":"c","i":"h","e":22.6,"v":1.45},{"k":"c","i":"h","e":22.25,"v":1.88},{"k":"c","i":"h","e":22.1,"v":1.95},{"k":"c","i":"h","e":21.95,"v":1.88},{"k":"c","i":"h","e":21.6,"v":1.45},{"k":"c","i":"h","e":21.0,"v":0.98},{"k":"c","i":"h","e":20.2,"v":0.76},{"k":"c","i":"h","e":19.2,"v":0.68},
{"k":"c","i":"j","e":21.5,"v":0.68},{"k":"c","i":"j","e":20.3,"v":0.78},{"k":"c","i":"j","e":19.3,"v":0.98},{"k":"c","i":"j","e":18.6,"v":1.22},{"k":"c","i":"j","e":18.1,"v":1.3},{"k":"c","i":"j","e":17.6,"v":1.22},{"k":"c","i":"j","e":16.9,"v":0.98},{"k":"c","i":"j","e":15.9,"v":0.78},{"k":"c","i":"j","e":14.7,"v":0.68},
{"k":"c","i":"m","e":20.5,"v":0.68},{"k":"c","i":"m","e":19.3,"v":0.78},{"k":"c","i":"m","e":18.3,"v":0.98},{"k":"c","i":"m","e":17.6,"v":1.27},{"k":"c","i":"m","e":17.1,"v":1.35},{"k":"c","i":"m","e":16.6,"v":1.27},{"k":"c","i":"m","e":15.9,"v":0.98},{"k":"c","i":"m","e":14.9,"v":0.78},{"k":"c","i":"m","e":13.7,"v":0.68},
{"k":"c","i":"n","e":19.5,"v":0.68},{"k":"c","i":"n","e":18.3,"v":0.78},{"k":"c","i":"n","e":17.3,"v":1.05},{"k":"c","i":"n","e":16.6,"v":1.4},{"k":"c","i":"n","e":16.1,"v":1.5},{"k":"c","i":"n","e":15.6,"v":1.4},{"k":"c","i":"n","e":14.9,"v":1.05},{"k":"c","i":"n","e":13.9,"v":0.78},{"k":"c","i":"n","e":12.7,"v":0.68},
{"k":"p","e":53.0,"v":0.98},{"k":"p","e":52.3,"v":1.0},{"k":"p","e":51.6,"v":1.0},{"k":"p","e":50.9,"v":1.03},{"k":"p","e":50.2,"v":1.05},{"k":"p","e":49.5,"v":1.08},{"k":"p","e":48.8,"v":1.1},{"k":"p","e":48.1,"v":1.15},{"k":"p","e":47.4,"v":1.22},{"k":"p","e":46.8,"v":1.32},{"k":"p","e":46.2,"v":1.45},{"k":"p","e":45.6,"v":1.62},{"k":"p","e":45.0,"v":1.85},{"k":"p","e":44.4,"v":2.1},{"k":"p","e":43.8,"v":2.35},{"k":"p","e":43.2,"v":2.52},{"k":"p","e":42.6,"v":2.7},{"k":"p","e":42.0,"v":2.9},{"k":"p","e":41.5,"v":3.2},{"k":"p","e":41.0,"v":3.6},{"k":"p","e":40.6,"v":3.9},{"k":"p","e":40.3,"v":4.0},{"k":"p","e":40.0,"v":3.85},{"k":"p","e":39.6,"v":3.45},{"k":"p","e":39.2,"v":2.95},{"k":"p","e":38.8,"v":2.5},{"k":"p","e":38.3,"v":2.15},{"k":"p","e":37.8,"v":1.88},{"k":"p","e":37.2,"v":1.7},{"k":"p","e":36.6,"v":1.56},{"k":"p","e":36.0,"v":1.5},{"k":"p","e":35.3,"v":1.45},{"k":"p","e":34.6,"v":1.42},{"k":"p","e":34.0,"v":1.45},{"k":"p","e":33.4,"v":1.5},{"k":"p","e":32.8,"v":1.55},{"k":"p","e":32.2,"v":1.58},{"k":"p","e":31.6,"v":1.56},{"k":"p","e":31.0,"v":1.52},{"k":"p","e":30.4,"v":1.45},{"k":"p","e":29.8,"v":1.35},{"k":"p","e":29.2,"v":1.28},{"k":"p","e":28.6,"v":1.22},{"k":"p","e":28.0,"v":1.18},{"k":"p","e":27.4,"v":1.16},{"k":"p","e":26.8,"v":1.2},{"k":"p","e":26.3,"v":1.3},{"k":"p","e":25.8,"v":1.55},{"k":"p","e":25.4,"v":1.95},{"k":"p","e":25.1,"v":2.1},{"k":"p","e":24.8,"v":1.85},{"k":"p","e":24.4,"v":1.4},{"k":"p","e":24.0,"v":1.2},{"k":"p","e":23.6,"v":1.15},{"k":"p","e":23.2,"v":1.18},{"k":"p","e":22.8,"v":1.4},{"k":"p","e":22.4,"v":1.85},{"k":"p","e":22.1,"v":2.05},{"k":"p","e":21.8,"v":1.85},{"k":"p","e":21.4,"v":1.45},{"k":"p","e":21.0,"v":1.25},{"k":"p","e":20.6,"v":1.2},{"k":"p","e":20.2,"v":1.25},{"k":"p","e":19.8,"v":1.35},{"k":"p","e":19.4,"v":1.55},{"k":"p","e":19.0,"v":1.78},{"k":"p","e":18.6,"v":1.92},{"k":"p","e":18.2,"v":2.02},{"k":"p","e":17.8,"v":2.08},{"k":"p","e":17.4,"v":2.12},{"k":"p","e":17.0,"v":2.16},{"k":"p","e":16.6,"v":2.15},{"k":"p","e":16.2,"v":2.1},{"k":"p","e":15.8,"v":1.95},{"k":"p","e":15.4,"v":1.75},{"k":"p","e":15.0,"v":1.55},{"k":"p","e":14.6,"v":1.35},{"k":"p","e":14.2,"v":1.2},{"k":"p","e":13.8,"v":1.08},{"k":"p","e":13.4,"v":1.0},{"k":"p","e":13.0,"v":0.92},{"k":"p","e":12.6,"v":0.88},{"k":"p","e":12.2,"v":0.84},{"k":"p","e":11.8,"v":0.82},{"k":"p","e":11.4,"v":0.8},{"k":"p","e":11.1,"v":0.8},
{"k":"l","e":44.0,"v":0.63,"v2":1.51},{"k":"l","e":40.3,"v":0.63,"v2":3.7},{"k":"l","e":25.15,"v":0.63,"v2":2.0},{"k":"l","e":22.1,"v":0.63,"v2":1.95},{"k":"l","e":18.1,"v":0.63,"v2":1.3},{"k":"l","e":17.1,"v":0.63,"v2":1.35},{"k":"l","e":16.1,"v":0.63,"v2":1.5},
{"k":"l","e":44.0,"v":2.68,"v2":2.28},{"k":"l","e":40.3,"v":4.2,"v2":3.98},{"k":"l","e":25.15,"v":2.6,"v2":2.12},{"k":"l","e":22.1,"v":3.0,"v2":2.08},{"k":"l","e":16.6,"v":2.6,"v2":2.2},
{"k":"t","e":43.7,"v":2.93,"t":"3a₁"},{"k":"t","e":40.3,"v":4.41,"t":"2t₂"},{"k":"t","e":26.6,"v":2.82,"t":"4a₁"},{"k":"t","e":23.0,"v":3.22,"t":"3t₂"},{"k":"t","e":18.6,"v":2.3,"t":"1e"},{"k":"t","e":15.2,"v":2.8,"t":"4t₂"},{"k":"t","e":15.0,"v":3.28,"t":"1t₁"},
{"k":"m","e":29.3,"v":4.3,"t":"CF₄"}
],
"ch2f2": [
{"k":"b","e":47.0,"e2":1.4,"v":0.77},
{"k":"f","e":47.0,"v":1.1},{"k":"f","e":46,"v":1.17},{"k":"f","e":45,"v":1.25},{"k":"f","e":44,"v":1.4},{"k":"f","e":43,"v":1.62},{"k":"f","e":42.2,"v":1.95},{"k":"f","e":41.5,"v":2.5},{"k":"f","e":41.0,"v":3.2},{"k":"f","e":40.5,"v":3.85},{"k":"f","e":40.0,"v":4.2},{"k":"f","e":39.4,"v":4.28},{"k":"f","e":38.8,"v":4.3},{"k":"f","e":38.3,"v":4.25},{"k":"f","e":37.9,"v":3.9},{"k":"f","e":37.4,"v":3.2},{"k":"f","e":36.9,"v":2.6},{"k":"f","e":36.2,"v":2.05},{"k":"f","e":35.3,"v":1.68},{"k":"f","e":34.3,"v":1.5},{"k":"f","e":33.2,"v":1.43},{"k":"f","e":32,"v":1.43},{"k":"f","e":31,"v":1.45},{"k":"f","e":30,"v":1.4},{"k":"f","e":29,"v":1.28},{"k":"f","e":28,"v":1.17},{"k":"f","e":27,"v":1.1},{"k":"f","e":26,"v":1.12},{"k":"f","e":25,"v":1.3},{"k":"f","e":24.4,"v":1.75},{"k":"f","e":24.0,"v":2.25},{"k":"f","e":23.75,"v":2.45},{"k":"f","e":23.5,"v":2.3},{"k":"f","e":23.1,"v":1.75},{"k":"f","e":22.6,"v":1.35},{"k":"f","e":22,"v":1.15},{"k":"f","e":21.3,"v":1.08},{"k":"f","e":20.6,"v":1.15},{"k":"f","e":20,"v":1.45},{"k":"f","e":19.4,"v":2.0},{"k":"f","e":19.0,"v":2.38},{"k":"f","e":18.7,"v":2.35},{"k":"f","e":18.3,"v":2.0},{"k":"f","e":17.7,"v":1.5},{"k":"f","e":17.1,"v":1.3},{"k":"f","e":16.5,"v":1.45},{"k":"f","e":16.0,"v":1.9},{"k":"f","e":15.5,"v":2.45},{"k":"f","e":15.2,"v":2.6},{"k":"f","e":14.9,"v":2.45},{"k":"f","e":14.4,"v":1.95},{"k":"f","e":13.9,"v":1.6},{"k":"f","e":13.3,"v":1.45},{"k":"f","e":12.8,"v":1.35},{"k":"f","e":12.2,"v":1.18},{"k":"f","e":11.4,"v":1.05},{"k":"f","e":10.5,"v":0.98},{"k":"f","e":9.6,"v":0.95},{"k":"f","e":8.6,"v":0.98},{"k":"f","e":7.8,"v":1.02},{"k":"f","e":7,"v":1.0},{"k":"f","e":6.2,"v":0.95},{"k":"f","e":5.2,"v":0.9},{"k":"f","e":4,"v":0.85},{"k":"f","e":3,"v":0.82},{"k":"f","e":1.4,"v":0.8},
{"k":"c","i":"a","e":47.0,"v":0.88},{"k":"c","i":"a","e":45.5,"v":1.0},{"k":"c","i":"a","e":44,"v":1.18},{"k":"c","i":"a","e":43,"v":1.45},{"k":"c","i":"a","e":42.3,"v":1.85},{"k":"c","i":"a","e":41.6,"v":2.4},{"k":"c","i":"a","e":41.0,"v":2.75},{"k":"c","i":"a","e":40.4,"v":2.97},{"k":"c","i":"a","e":40.1,"v":2.99},{"k":"c","i":"a","e":39.7,"v":2.85},{"k":"c","i":"a","e":39.2,"v":2.4},{"k":"c","i":"a","e":38.6,"v":1.85},{"k":"c","i":"a","e":37.9,"v":1.4},{"k":"c","i":"a","e":37,"v":1.12},{"k":"c","i":"a","e":36,"v":0.97},{"k":"c","i":"a","e":34.5,"v":0.87},{"k":"c","i":"a","e":32,"v":0.8},
{"k":"c","i":"b","e":47.0,"v":0.85},{"k":"c","i":"b","e":45,"v":0.9},{"k":"c","i":"b","e":43,"v":1.0},{"k":"c","i":"b","e":41.5,"v":1.25},{"k":"c","i":"b","e":40.6,"v":1.55},{"k":"c","i":"b","e":39.9,"v":2.0},{"k":"c","i":"b","e":39.3,"v":2.6},{"k":"c","i":"b","e":38.8,"v":3.1},{"k":"c","i":"b","e":38.4,"v":3.26},{"k":"c","i":"b","e":38.0,"v":3.2},{"k":"c","i":"b","e":37.5,"v":2.8},{"k":"c","i":"b","e":36.8,"v":2.15},{"k":"c","i":"b","e":36,"v":1.65},{"k":"c","i":"b","e":35,"v":1.3},{"k":"c","i":"b","e":34,"v":1.1},{"k":"c","i":"b","e":32.5,"v":0.95},{"k":"c","i":"b","e":30.5,"v":0.86},{"k":"c","i":"b","e":28,"v":0.81},
{"k":"c","i":"c","e":36,"v":0.8},{"k":"c","i":"c","e":34.5,"v":0.88},{"k":"c","i":"c","e":33.3,"v":1.0},{"k":"c","i":"c","e":32.3,"v":1.1},{"k":"c","i":"c","e":31.5,"v":1.13},{"k":"c","i":"c","e":30.6,"v":1.1},{"k":"c","i":"c","e":29.6,"v":1.0},{"k":"c","i":"c","e":28.6,"v":0.88},{"k":"c","i":"c","e":27.3,"v":0.8},
{"k":"c","i":"d","e":27,"v":0.83},{"k":"c","i":"d","e":26,"v":0.92},{"k":"c","i":"d","e":25,"v":1.2},{"k":"c","i":"d","e":24.4,"v":1.7},{"k":"c","i":"d","e":24.0,"v":2.2},{"k":"c","i":"d","e":23.75,"v":2.38},{"k":"c","i":"d","e":23.5,"v":2.2},{"k":"c","i":"d","e":23.1,"v":1.7},{"k":"c","i":"d","e":22.5,"v":1.2},{"k":"c","i":"d","e":21.5,"v":0.92},{"k":"c","i":"d","e":20.5,"v":0.83},
{"k":"c","i":"g","e":22.5,"v":0.83},{"k":"c","i":"g","e":21.3,"v":0.95},{"k":"c","i":"g","e":20.4,"v":1.25},{"k":"c","i":"g","e":19.7,"v":1.8},{"k":"c","i":"g","e":19.2,"v":2.2},{"k":"c","i":"g","e":19.0,"v":2.3},{"k":"c","i":"g","e":18.7,"v":2.2},{"k":"c","i":"g","e":18.2,"v":1.8},{"k":"c","i":"g","e":17.5,"v":1.25},{"k":"c","i":"g","e":16.6,"v":0.95},{"k":"c","i":"g","e":15.5,"v":0.83},
{"k":"c","i":"h","e":18.7,"v":0.83},{"k":"c","i":"h","e":17.5,"v":0.95},{"k":"c","i":"h","e":16.6,"v":1.25},{"k":"c","i":"h","e":15.9,"v":1.8},{"k":"c","i":"h","e":15.4,"v":2.38},{"k":"c","i":"h","e":15.2,"v":2.5},{"k":"c","i":"h","e":14.9,"v":2.38},{"k":"c","i":"h","e":14.4,"v":1.8},{"k":"c","i":"h","e":13.7,"v":1.25},{"k":"c","i":"h","e":12.8,"v":0.95},{"k":"c","i":"h","e":11.7,"v":0.83},
{"k":"c","i":"j","e":15.5,"v":0.8},{"k":"c","i":"j","e":14.5,"v":0.9},{"k":"c","i":"j","e":13.7,"v":1.05},{"k":"c","i":"j","e":13.0,"v":1.15},{"k":"c","i":"j","e":12.3,"v":1.05},{"k":"c","i":"j","e":11.5,"v":0.9},{"k":"c","i":"j","e":10.5,"v":0.8},
{"k":"c","i":"m","e":10.5,"v":0.79},{"k":"c","i":"m","e":9.5,"v":0.85},{"k":"c","i":"m","e":8.3,"v":0.95},{"k":"c","i":"m","e":7.5,"v":0.97},{"k":"c","i":"m","e":6.5,"v":0.92},{"k":"c","i":"m","e":5.5,"v":0.84},{"k":"c","i":"m","e":4.5,"v":0.79},
{"k":"p","e":47.0,"v":1.15},{"k":"p","e":46.5,"v":1.2},{"k":"p","e":46.0,"v":1.2},{"k":"p","e":45.5,"v":1.25},{"k":"p","e":45.0,"v":1.3},{"k":"p","e":44.5,"v":1.37},{"k":"p","e":44.0,"v":1.45},{"k":"p","e":43.5,"v":1.55},{"k":"p","e":43.0,"v":1.68},{"k":"p","e":42.5,"v":1.85},{"k":"p","e":42.0,"v":2.1},{"k":"p","e":41.6,"v":2.45},{"k":"p","e":41.2,"v":2.95},{"k":"p","e":40.8,"v":3.5},{"k":"p","e":40.4,"v":3.95},{"k":"p","e":40.0,"v":4.25},{"k":"p","e":39.6,"v":4.33},{"k":"p","e":39.2,"v":4.32},{"k":"p","e":38.8,"v":4.35},{"k":"p","e":38.4,"v":4.3},{"k":"p","e":38.0,"v":4.0},{"k":"p","e":37.6,"v":3.5},{"k":"p","e":37.2,"v":2.95},{"k":"p","e":36.8,"v":2.5},{"k":"p","e":36.3,"v":2.1},{"k":"p","e":35.8,"v":1.85},{"k":"p","e":35.2,"v":1.68},{"k":"p","e":34.6,"v":1.56},{"k":"p","e":34.0,"v":1.5},{"k":"p","e":33.4,"v":1.47},{"k":"p","e":32.8,"v":1.46},{"k":"p","e":32.2,"v":1.48},{"k":"p","e":31.6,"v":1.5},{"k":"p","e":31.0,"v":1.5},{"k":"p","e":30.4,"v":1.47},{"k":"p","e":29.8,"v":1.42},{"k":"p","e":29.2,"v":1.35},{"k":"p","e":28.6,"v":1.27},{"k":"p","e":28.0,"v":1.2},{"k":"p","e":27.4,"v":1.15},{"k":"p","e":26.8,"v":1.13},{"k":"p","e":26.2,"v":1.15},{"k":"p","e":25.6,"v":1.22},{"k":"p","e":25.1,"v":1.38},{"k":"p","e":24.6,"v":1.65},{"k":"p","e":24.2,"v":2.05},{"k":"p","e":23.9,"v":2.4},{"k":"p","e":23.7,"v":2.5},{"k":"p","e":23.4,"v":2.3},{"k":"p","e":23.1,"v":1.85},{"k":"p","e":22.7,"v":1.45},{"k":"p","e":22.3,"v":1.25},{"k":"p","e":21.8,"v":1.15},{"k":"p","e":21.3,"v":1.12},{"k":"p","e":20.8,"v":1.15},{"k":"p","e":20.3,"v":1.3},{"k":"p","e":19.9,"v":1.6},{"k":"p","e":19.5,"v":2.05},{"k":"p","e":19.1,"v":2.4},{"k":"p","e":18.8,"v":2.42},{"k":"p","e":18.5,"v":2.2},{"k":"p","e":18.1,"v":1.85},{"k":"p","e":17.7,"v":1.55},{"k":"p","e":17.3,"v":1.38},{"k":"p","e":16.9,"v":1.38},{"k":"p","e":16.5,"v":1.55},{"k":"p","e":16.1,"v":1.95},{"k":"p","e":15.7,"v":2.4},{"k":"p","e":15.3,"v":2.65},{"k":"p","e":15.0,"v":2.6},{"k":"p","e":14.7,"v":2.3},{"k":"p","e":14.3,"v":1.95},{"k":"p","e":13.9,"v":1.68},{"k":"p","e":13.5,"v":1.52},{"k":"p","e":13.1,"v":1.45},{"k":"p","e":12.7,"v":1.38},{"k":"p","e":12.3,"v":1.25},{"k":"p","e":11.9,"v":1.15},{"k":"p","e":11.4,"v":1.08},{"k":"p","e":10.9,"v":1.03},{"k":"p","e":10.4,"v":1.0},{"k":"p","e":9.9,"v":0.98},{"k":"p","e":9.4,"v":1.0},{"k":"p","e":8.9,"v":1.02},{"k":"p","e":8.4,"v":1.05},{"k":"p","e":7.9,"v":1.08},{"k":"p","e":7.4,"v":1.05},{"k":"p","e":6.9,"v":1.02},{"k":"p","e":6.4,"v":1.0},{"k":"p","e":5.9,"v":0.96},{"k":"p","e":5.4,"v":0.93},{"k":"p","e":4.9,"v":0.9},{"k":"p","e":4.4,"v":0.88},{"k":"p","e":3.9,"v":0.86},{"k":"p","e":3.4,"v":0.85},{"k":"p","e":2.9,"v":0.84},{"k":"p","e":2.4,"v":0.83},{"k":"p","e":1.9,"v":0.82},{"k":"p","e":1.5,"v":0.82},
{"k":"l","e":40.1,"v":0.77,"v2":2.99},{"k":"l","e":38.3,"v":0.77,"v2":3.26},{"k":"l","e":23.75,"v":0.77,"v2":2.38},{"k":"l","e":19.5,"v":0.77,"v2":1.5},{"k":"l","e":19.0,"v":0.77,"v2":2.3},{"k":"l","e":15.6,"v":0.77,"v2":1.6},{"k":"l","e":15.2,"v":0.77,"v2":2.5},{"k":"l","e":14.7,"v":0.77,"v2":1.3},{"k":"l","e":13.0,"v":0.77,"v2":1.15},
{"k":"l","e":40.1,"v":4.8,"v2":4.45},{"k":"l","e":38.3,"v":5.3,"v2":4.45},{"k":"l","e":23.75,"v":2.95,"v2":2.55},{"k":"l","e":13.0,"v":3.05,"v2":1.55},{"k":"l","e":18.6,"v":3.55,"v2":2.5},
{"k":"r","i":"u","e":22.1,"v":4.52},{"k":"r","i":"u","e":21.6,"v":4.42},{"k":"r","i":"u","e":16.0,"v":4.42},{"k":"r","i":"u","e":15.3,"v":4.32},{"k":"r","i":"u","e":14.6,"v":4.42},{"k":"r","i":"u","e":6.8,"v":4.42},{"k":"r","i":"u","e":6.3,"v":4.52},
{"k":"r","i":"w","e":28.3,"v":3.78},{"k":"r","i":"w","e":27.8,"v":3.68},{"k":"r","i":"w","e":19.3,"v":3.68},{"k":"r","i":"w","e":18.6,"v":3.58},{"k":"r","i":"w","e":17.9,"v":3.68},{"k":"r","i":"w","e":14.0,"v":3.68},{"k":"r","i":"w","e":13.5,"v":3.78},
{"k":"t","e":42.5,"v":4.95,"t":"3a₁"},{"k":"t","e":38.3,"v":5.5,"t":"2b₁"},{"k":"t","e":14.3,"v":4.72,"t":"1a₂ 4b₁ 6a₁"},{"k":"t","e":20.8,"v":3.98,"t":"1b₂5a₁ 3b₁"},{"k":"t","e":23.75,"v":3.15,"t":"4a₁"},{"k":"t","e":12.6,"v":3.25,"t":"2b₂"},
{"k":"m","e":5.3,"v":3.95,"t":"CH₂F₂"}
],
"hf": [
{"k":"b","e":45.5,"e2":4.9,"v":0.3},
{"k":"f","e":45.5,"v":0.55},{"k":"f","e":44,"v":0.6},{"k":"f","e":43,"v":0.68},{"k":"f","e":42,"v":0.85},{"k":"f","e":41.3,"v":1.15},{"k":"f","e":40.8,"v":1.75},{"k":"f","e":40.3,"v":2.5},{"k":"f","e":40.0,"v":2.85},{"k":"f","e":39.7,"v":2.9},{"k":"f","e":39.4,"v":2.6},{"k":"f","e":39.0,"v":1.85},{"k":"f","e":38.5,"v":1.2},{"k":"f","e":37.8,"v":0.85},{"k":"f","e":37,"v":0.68},{"k":"f","e":36,"v":0.6},{"k":"f","e":35,"v":0.56},{"k":"f","e":34,"v":0.56},{"k":"f","e":33,"v":0.6},{"k":"f","e":32,"v":0.66},{"k":"f","e":31.2,"v":0.7},{"k":"f","e":30.4,"v":0.67},{"k":"f","e":29.5,"v":0.6},{"k":"f","e":28.5,"v":0.53},{"k":"f","e":27,"v":0.48},{"k":"f","e":25.5,"v":0.46},{"k":"f","e":24,"v":0.47},{"k":"f","e":23,"v":0.5},{"k":"f","e":22,"v":0.56},{"k":"f","e":21,"v":0.72},{"k":"f","e":20.4,"v":0.92},{"k":"f","e":20.0,"v":0.98},{"k":"f","e":19.6,"v":0.9},{"k":"f","e":19.0,"v":0.7},{"k":"f","e":18.3,"v":0.62},{"k":"f","e":17.5,"v":0.72},{"k":"f","e":16.8,"v":1.0},{"k":"f","e":16.3,"v":1.25},{"k":"f","e":16.0,"v":1.3},{"k":"f","e":15.7,"v":1.2},{"k":"f","e":15.2,"v":0.9},{"k":"f","e":14.5,"v":0.62},{"k":"f","e":13.6,"v":0.48},{"k":"f","e":12.6,"v":0.42},{"k":"f","e":11.5,"v":0.38},{"k":"f","e":10,"v":0.37},{"k":"f","e":8.5,"v":0.38},{"k":"f","e":7,"v":0.37},{"k":"f","e":5.5,"v":0.34},{"k":"f","e":4.9,"v":0.33},
{"k":"c","i":"a","e":45.5,"v":0.45},{"k":"c","i":"a","e":44,"v":0.52},{"k":"c","i":"a","e":42.8,"v":0.65},{"k":"c","i":"a","e":41.8,"v":0.95},{"k":"c","i":"a","e":41,"v":1.5},{"k":"c","i":"a","e":40.4,"v":2.35},{"k":"c","i":"a","e":40.0,"v":2.75},{"k":"c","i":"a","e":39.8,"v":2.8},{"k":"c","i":"a","e":39.5,"v":2.65},{"k":"c","i":"a","e":39.1,"v":2.05},{"k":"c","i":"a","e":38.5,"v":1.3},{"k":"c","i":"a","e":37.8,"v":0.85},{"k":"c","i":"a","e":36.8,"v":0.6},{"k":"c","i":"a","e":35.5,"v":0.47},{"k":"c","i":"a","e":33.5,"v":0.39},{"k":"c","i":"a","e":30,"v":0.34},
{"k":"c","i":"b","e":36,"v":0.32},{"k":"c","i":"b","e":34.5,"v":0.38},{"k":"c","i":"b","e":33.3,"v":0.48},{"k":"c","i":"b","e":32.3,"v":0.58},{"k":"c","i":"b","e":31.3,"v":0.62},{"k":"c","i":"b","e":30.3,"v":0.58},{"k":"c","i":"b","e":29.3,"v":0.48},{"k":"c","i":"b","e":28.2,"v":0.38},{"k":"c","i":"b","e":26.8,"v":0.32},
{"k":"c","i":"c","e":24,"v":0.33},{"k":"c","i":"c","e":22.8,"v":0.4},{"k":"c","i":"c","e":21.8,"v":0.55},{"k":"c","i":"c","e":20.9,"v":0.78},{"k":"c","i":"c","e":20.3,"v":0.88},{"k":"c","i":"c","e":19.95,"v":0.9},{"k":"c","i":"c","e":19.6,"v":0.88},{"k":"c","i":"c","e":19.0,"v":0.75},{"k":"c","i":"c","e":18.2,"v":0.55},{"k":"c","i":"c","e":17.2,"v":0.4},{"k":"c","i":"c","e":16,"v":0.33},
{"k":"c","i":"d","e":20,"v":0.33},{"k":"c","i":"d","e":18.8,"v":0.42},{"k":"c","i":"d","e":17.8,"v":0.62},{"k":"c","i":"d","e":17.0,"v":0.92},{"k":"c","i":"d","e":16.4,"v":1.18},{"k":"c","i":"d","e":16.0,"v":1.25},{"k":"c","i":"d","e":15.6,"v":1.18},{"k":"c","i":"d","e":15.0,"v":0.92},{"k":"c","i":"d","e":14.2,"v":0.62},{"k":"c","i":"d","e":13.2,"v":0.42},{"k":"c","i":"d","e":12,"v":0.33},
{"k":"p","e":45.4,"v":0.58},{"k":"p","e":44.8,"v":0.6},{"k":"p","e":44.2,"v":0.62},{"k":"p","e":43.6,"v":0.66},{"k":"p","e":43.0,"v":0.72},{"k":"p","e":42.4,"v":0.8},{"k":"p","e":41.8,"v":0.95},{"k":"p","e":41.3,"v":1.2},{"k":"p","e":40.9,"v":1.65},{"k":"p","e":40.6,"v":2.1},{"k":"p","e":40.3,"v":2.55},{"k":"p","e":40.0,"v":2.9},{"k":"p","e":39.7,"v":2.95},{"k":"p","e":39.4,"v":2.7},{"k":"p","e":39.1,"v":2.15},{"k":"p","e":38.8,"v":1.6},{"k":"p","e":38.4,"v":1.2},{"k":"p","e":37.9,"v":0.92},{"k":"p","e":37.4,"v":0.78},{"k":"p","e":36.9,"v":0.7},{"k":"p","e":36.3,"v":0.65},{"k":"p","e":35.7,"v":0.62},{"k":"p","e":35.1,"v":0.6},{"k":"p","e":34.5,"v":0.6},{"k":"p","e":33.9,"v":0.61},{"k":"p","e":33.3,"v":0.63},{"k":"p","e":32.7,"v":0.67},{"k":"p","e":32.1,"v":0.71},{"k":"p","e":31.5,"v":0.74},{"k":"p","e":30.9,"v":0.73},{"k":"p","e":30.3,"v":0.7},{"k":"p","e":29.7,"v":0.65},{"k":"p","e":29.1,"v":0.6},{"k":"p","e":28.5,"v":0.56},{"k":"p","e":27.9,"v":0.53},{"k":"p","e":27.3,"v":0.52},{"k":"p","e":26.7,"v":0.5},{"k":"p","e":26.1,"v":0.5},{"k":"p","e":25.5,"v":0.49},{"k":"p","e":24.9,"v":0.5},{"k":"p","e":24.3,"v":0.5},{"k":"p","e":23.7,"v":0.52},{"k":"p","e":23.1,"v":0.55},{"k":"p","e":22.5,"v":0.58},{"k":"p","e":21.9,"v":0.63},{"k":"p","e":21.3,"v":0.72},{"k":"p","e":20.8,"v":0.85},{"k":"p","e":20.4,"v":0.97},{"k":"p","e":20.0,"v":1.02},{"k":"p","e":19.6,"v":0.95},{"k":"p","e":19.2,"v":0.8},{"k":"p","e":18.8,"v":0.7},{"k":"p","e":18.4,"v":0.66},{"k":"p","e":18.0,"v":0.68},{"k":"p","e":17.6,"v":0.75},{"k":"p","e":17.2,"v":0.88},{"k":"p","e":16.8,"v":1.05},{"k":"p","e":16.4,"v":1.25},{"k":"p","e":16.1,"v":1.33},{"k":"p","e":15.8,"v":1.25},{"k":"p","e":15.4,"v":1.05},{"k":"p","e":15.0,"v":0.85},{"k":"p","e":14.6,"v":0.7},{"k":"p","e":14.2,"v":0.6},{"k":"p","e":13.7,"v":0.52},{"k":"p","e":13.2,"v":0.48},{"k":"p","e":12.7,"v":0.45},{"k":"p","e":12.2,"v":0.43},{"k":"p","e":11.7,"v":0.42},{"k":"p","e":11.2,"v":0.4},{"k":"p","e":10.7,"v":0.4},{"k":"p","e":10.2,"v":0.41},{"k":"p","e":9.7,"v":0.4},{"k":"p","e":9.2,"v":0.42},{"k":"p","e":8.7,"v":0.44},{"k":"p","e":8.2,"v":0.47},{"k":"p","e":7.8,"v":0.45},{"k":"p","e":7.4,"v":0.42},{"k":"p","e":7.0,"v":0.4},{"k":"p","e":6.5,"v":0.39},{"k":"p","e":6.0,"v":0.38},{"k":"p","e":5.5,"v":0.37},{"k":"p","e":5.0,"v":0.36},
{"k":"l","e":39.8,"v":0.3,"v2":2.8},{"k":"l","e":19.95,"v":0.3,"v2":0.9},{"k":"l","e":16.0,"v":0.3,"v2":1.25},
{"k":"l","e":19.95,"v":1.23,"v2":1.05},{"k":"l","e":16.0,"v":2.05,"v2":1.42},
{"k":"t","e":39.8,"v":3.25,"t":"2σ"},{"k":"t","e":20.1,"v":1.38,"t":"3σ"},{"k":"t","e":16.0,"v":2.2,"t":"1π"},
{"k":"m","e":12.9,"v":3.05,"t":"HF"}
]
},
"concat": [
{
 "width": 537, "height": 366, "data": {"name": "ch4"},
 "resolve": {"axis": {"x": "independent", "y": "independent"}},
 "encoding": {
  "x": {"field": "e", "type": "quantitative", "scale": {"domain": [50.3, -4.7], "nice": false, "zero": false}, "axis": null},
  "y": {"field": "v", "type": "quantitative", "scale": {"domain": [2, 5.6], "nice": false, "zero": false}, "axis": null}
 },
 "layer": [
  {"transform": [{"filter": "datum.k==='b'"}], "mark": {"type": "rule", "strokeWidth": 1.3},
   "encoding": {"x": {"field": "e", "type": "quantitative", "scale": {"domain": [50.3, -4.7], "nice": false, "zero": false}, "axis": {"orient": "top", "values": [40, 30, 20, 10, 0], "labelPadding": 14, "title": "Binding energy (eV)", "titleX": 511, "titleY": -53, "titleBaseline": "alphabetic", "titleAlign": "center"}}, "x2": {"field": "e2"},
    "y": {"field": "v", "type": "quantitative", "scale": {"domain": [2, 5.6], "nice": false, "zero": false}, "axis": {"orient": "left", "values": [2, 3, 4, 5], "title": null, "labelPadding": 13}}}},
  {"transform": [{"filter": "datum.k==='c'"}], "mark": {"type": "line", "strokeWidth": 1, "interpolate": "monotone"}, "encoding": {"detail": {"field": "i"}}},
  {"transform": [{"filter": "datum.k==='f'"}], "mark": {"type": "line", "strokeWidth": 1.8, "interpolate": "monotone"},
   "encoding": {"x": {"field": "e", "type": "quantitative", "scale": {"domain": [50.3, -4.7], "nice": false, "zero": false}, "axis": {"orient": "bottom", "values": [40, 30, 20, 10, 0], "labels": false, "title": null}},
    "y": {"field": "v", "type": "quantitative", "scale": {"domain": [2, 5.6], "nice": false, "zero": false}, "axis": {"orient": "right", "values": [3, 4, 5], "labels": false, "title": null}}}},
  {"transform": [{"filter": "datum.k==='p'"}], "mark": {"type": "tick", "orient": "vertical", "size": 10, "thickness": 1.2}},
  {"transform": [{"filter": "datum.k==='l'"}], "mark": {"type": "rule", "strokeWidth": 1.6}, "encoding": {"y2": {"field": "v2"}}},
  {"transform": [{"filter": "datum.k==='t'"}], "mark": {"type": "text", "fontSize": 24}, "encoding": {"text": {"field": "t"}}},
  {"transform": [{"filter": "datum.k==='m'"}], "mark": {"type": "text", "fontSize": 32}, "encoding": {"text": {"field": "t"}}}
 ]
},
{
 "width": 537, "height": 366, "data": {"name": "chf3"},
 "resolve": {"axis": {"x": "independent", "y": "independent"}},
 "encoding": {
  "x": {"field": "e", "type": "quantitative", "scale": {"domain": [55.1, 0], "nice": false, "zero": false}, "axis": null},
  "y": {"field": "v", "type": "quantitative", "scale": {"domain": [0, 6.0], "nice": false, "zero": false}, "axis": null}
 },
 "layer": [
  {"transform": [{"filter": "datum.k==='b'"}], "mark": {"type": "rule", "strokeWidth": 1.3},
   "encoding": {"x": {"field": "e", "type": "quantitative", "scale": {"domain": [55.1, 0], "nice": false, "zero": false}, "axis": {"orient": "top", "values": [50, 40, 30, 20, 10, 0], "labelPadding": 14, "title": null}}, "x2": {"field": "e2"},
    "y": {"field": "v", "type": "quantitative", "scale": {"domain": [0, 6.0], "nice": false, "zero": false}, "axis": {"orient": "right", "values": [0, 1, 2, 3, 4, 5], "title": null, "labelPadding": 17}}}},
  {"transform": [{"filter": "datum.k==='c'"}], "mark": {"type": "line", "strokeWidth": 1, "interpolate": "monotone"}, "encoding": {"detail": {"field": "i"}}},
  {"transform": [{"filter": "datum.k==='f'"}], "mark": {"type": "line", "strokeWidth": 1.8, "interpolate": "monotone"},
   "encoding": {"x": {"field": "e", "type": "quantitative", "scale": {"domain": [55.1, 0], "nice": false, "zero": false}, "axis": {"orient": "bottom", "values": [50, 40, 30, 20, 10], "labels": false, "title": null}},
    "y": {"field": "v", "type": "quantitative", "scale": {"domain": [0, 6.0], "nice": false, "zero": false}, "axis": {"orient": "left", "values": [1, 2, 3, 4, 5], "labels": false, "title": null}}}},
  {"transform": [{"filter": "datum.k==='p'"}], "mark": {"type": "tick", "orient": "vertical", "size": 10, "thickness": 1.2}},
  {"transform": [{"filter": "datum.k==='l'"}], "mark": {"type": "rule", "strokeWidth": 1.6}, "encoding": {"y2": {"field": "v2"}}},
  {"transform": [{"filter": "datum.k==='t'"}], "mark": {"type": "text", "fontSize": 24}, "encoding": {"text": {"field": "t"}}},
  {"transform": [{"filter": "datum.k==='m'"}], "mark": {"type": "text", "fontSize": 32}, "encoding": {"text": {"field": "t"}}}
 ]
},
{
 "width": 537, "height": 366, "data": {"name": "ch3f"},
 "resolve": {"axis": {"x": "independent", "y": "independent"}},
 "encoding": {
  "x": {"field": "e", "type": "quantitative", "scale": {"domain": [50.3, -4.7], "nice": false, "zero": false}, "axis": null},
  "y": {"field": "v", "type": "quantitative", "scale": {"domain": [0, 3.63], "nice": false, "zero": false}, "axis": null}
 },
 "layer": [
  {"transform": [{"filter": "datum.k==='b'"}], "mark": {"type": "rule", "strokeWidth": 1.3},
   "encoding": {"x": {"field": "e", "type": "quantitative", "scale": {"domain": [50.3, -4.7], "nice": false, "zero": false}, "axis": {"orient": "top", "values": [40, 30, 20, 10, 0], "labels": false, "title": null}}, "x2": {"field": "e2"},
    "y": {"field": "v", "type": "quantitative", "scale": {"domain": [0, 3.63], "nice": false, "zero": false}, "axis": {"orient": "left", "values": [0, 1, 2, 3], "title": "Thousands of counts", "labelPadding": 13, "titleX": -62, "titleY": 240, "titleBaseline": "middle", "titleAlign": "center", "titleFontSize": 36}}}},
  {"transform": [{"filter": "datum.k==='c'"}], "mark": {"type": "line", "strokeWidth": 1, "interpolate": "monotone"}, "encoding": {"detail": {"field": "i"}}},
  {"transform": [{"filter": "datum.k==='f'"}], "mark": {"type": "line", "strokeWidth": 1.8, "interpolate": "monotone"},
   "encoding": {"x": {"field": "e", "type": "quantitative", "scale": {"domain": [50.3, -4.7], "nice": false, "zero": false}, "axis": {"orient": "bottom", "values": [40, 30, 20, 10, 0], "labels": false, "title": null}},
    "y": {"field": "v", "type": "quantitative", "scale": {"domain": [0, 3.63], "nice": false, "zero": false}, "axis": {"orient": "right", "values": [1, 2, 3], "labels": false, "title": null}}}},
  {"transform": [{"filter": "datum.k==='p'"}], "mark": {"type": "tick", "orient": "vertical", "size": 10, "thickness": 1.2}},
  {"transform": [{"filter": "datum.k==='l'"}], "mark": {"type": "rule", "strokeWidth": 1.6}, "encoding": {"y2": {"field": "v2"}}},
  {"transform": [{"filter": "datum.k==='t'"}], "mark": {"type": "text", "fontSize": 24}, "encoding": {"text": {"field": "t"}}},
  {"transform": [{"filter": "datum.k==='m'"}], "mark": {"type": "text", "fontSize": 32}, "encoding": {"text": {"field": "t"}}}
 ]
},
{
 "width": 537, "height": 366, "data": {"name": "cf4"},
 "resolve": {"axis": {"x": "independent", "y": "independent"}},
 "encoding": {
  "x": {"field": "e", "type": "quantitative", "scale": {"domain": [55.1, 0], "nice": false, "zero": false}, "axis": null},
  "y": {"field": "v", "type": "quantitative", "scale": {"domain": [0, 4.84], "nice": false, "zero": false}, "axis": null}
 },
 "layer": [
  {"transform": [{"filter": "datum.k==='b'"}], "mark": {"type": "rule", "strokeWidth": 1.3},
   "encoding": {"x": {"field": "e", "type": "quantitative", "scale": {"domain": [55.1, 0], "nice": false, "zero": false}, "axis": {"orient": "top", "values": [50, 40, 30, 20, 10], "labels": false, "title": null}}, "x2": {"field": "e2"},
    "y": {"field": "v", "type": "quantitative", "scale": {"domain": [0, 4.84], "nice": false, "zero": false}, "axis": {"orient": "right", "values": [0, 1, 2, 3, 4], "title": null, "labelPadding": 17}}}},
  {"transform": [{"filter": "datum.k==='c'"}], "mark": {"type": "line", "strokeWidth": 1, "interpolate": "monotone"}, "encoding": {"detail": {"field": "i"}}},
  {"transform": [{"filter": "datum.k==='f'"}], "mark": {"type": "line", "strokeWidth": 1.8, "interpolate": "monotone"},
   "encoding": {"x": {"field": "e", "type": "quantitative", "scale": {"domain": [55.1, 0], "nice": false, "zero": false}, "axis": {"orient": "bottom", "values": [50, 40, 30, 20, 10], "labels": false, "title": null}},
    "y": {"field": "v", "type": "quantitative", "scale": {"domain": [0, 4.84], "nice": false, "zero": false}, "axis": {"orient": "left", "values": [1, 2, 3, 4], "labels": false, "title": null}}}},
  {"transform": [{"filter": "datum.k==='p'"}], "mark": {"type": "tick", "orient": "vertical", "size": 10, "thickness": 1.2}},
  {"transform": [{"filter": "datum.k==='l'"}], "mark": {"type": "rule", "strokeWidth": 1.6}, "encoding": {"y2": {"field": "v2"}}},
  {"transform": [{"filter": "datum.k==='t'"}], "mark": {"type": "text", "fontSize": 24}, "encoding": {"text": {"field": "t"}}},
  {"transform": [{"filter": "datum.k==='m'"}], "mark": {"type": "text", "fontSize": 32}, "encoding": {"text": {"field": "t"}}}
 ]
},
{
 "width": 537, "height": 366, "data": {"name": "ch2f2"},
 "resolve": {"axis": {"x": "independent", "y": "independent"}},
 "encoding": {
  "x": {"field": "e", "type": "quantitative", "scale": {"domain": [50.3, -4.7], "nice": false, "zero": false}, "axis": null},
  "y": {"field": "v", "type": "quantitative", "scale": {"domain": [0, 6.08], "nice": false, "zero": false}, "axis": null}
 },
 "layer": [
  {"transform": [{"filter": "datum.k==='b'"}], "mark": {"type": "rule", "strokeWidth": 1.3},
   "encoding": {"x": {"field": "e", "type": "quantitative", "scale": {"domain": [50.3, -4.7], "nice": false, "zero": false}, "axis": {"orient": "top", "values": [40, 30, 20, 10, 0], "labels": false, "title": null}}, "x2": {"field": "e2"},
    "y": {"field": "v", "type": "quantitative", "scale": {"domain": [0, 6.08], "nice": false, "zero": false}, "axis": {"orient": "left", "values": [1, 2, 3, 4, 5], "title": null, "labelPadding": 13}}}},
  {"transform": [{"filter": "datum.k==='c'"}], "mark": {"type": "line", "strokeWidth": 1, "interpolate": "monotone"}, "encoding": {"detail": {"field": "i"}}},
  {"transform": [{"filter": "datum.k==='f'"}], "mark": {"type": "line", "strokeWidth": 1.8, "interpolate": "monotone"},
   "encoding": {"x": {"field": "e", "type": "quantitative", "scale": {"domain": [50.3, -4.7], "nice": false, "zero": false}, "axis": {"orient": "bottom", "values": [50, 40, 30, 20, 10, 0], "labelPadding": 24, "title": "Binding energy (eV)", "titleX": 511, "titleY": 87, "titleBaseline": "alphabetic", "titleAlign": "center"}},
    "y": {"field": "v", "type": "quantitative", "scale": {"domain": [0, 6.08], "nice": false, "zero": false}, "axis": {"orient": "right", "values": [1, 2, 3, 4, 5], "labels": false, "title": null}}}},
  {"transform": [{"filter": "datum.k==='p'"}], "mark": {"type": "tick", "orient": "vertical", "size": 10, "thickness": 1.2}},
  {"transform": [{"filter": "datum.k==='l'"}], "mark": {"type": "rule", "strokeWidth": 1.6},
   "encoding": {"y": {"field": "v", "type": "quantitative", "scale": {"domain": [0, 6.08], "nice": false, "zero": false}, "axis": {"orient": "left", "values": [0], "title": null, "labelPadding": 15, "labelOffset": -5, "ticks": false}}, "y2": {"field": "v2"}}},
  {"transform": [{"filter": "datum.k==='r'"}], "mark": {"type": "line", "strokeWidth": 1.3}, "encoding": {"detail": {"field": "i"}}},
  {"transform": [{"filter": "datum.k==='t'"}], "mark": {"type": "text", "fontSize": 25}, "encoding": {"text": {"field": "t"}}},
  {"transform": [{"filter": "datum.k==='m'"}], "mark": {"type": "text", "fontSize": 32}, "encoding": {"text": {"field": "t"}}}
 ]
},
{
 "width": 537, "height": 366, "data": {"name": "hf"},
 "resolve": {"axis": {"x": "independent", "y": "independent"}},
 "encoding": {
  "x": {"field": "e", "type": "quantitative", "scale": {"domain": [55.1, 0], "nice": false, "zero": false}, "axis": null},
  "y": {"field": "v", "type": "quantitative", "scale": {"domain": [0, 3.65], "nice": false, "zero": false}, "axis": null}
 },
 "layer": [
  {"transform": [{"filter": "datum.k==='b'"}], "mark": {"type": "rule", "strokeWidth": 1.3},
   "encoding": {"x": {"field": "e", "type": "quantitative", "scale": {"domain": [55.1, 0], "nice": false, "zero": false}, "axis": {"orient": "top", "values": [50, 40, 30, 20, 10], "labels": false, "title": null}}, "x2": {"field": "e2"},
    "y": {"field": "v", "type": "quantitative", "scale": {"domain": [0, 3.65], "nice": false, "zero": false}, "axis": {"orient": "right", "values": [0, 1, 2, 3], "title": null, "labelPadding": 17}}}},
  {"transform": [{"filter": "datum.k==='c'"}], "mark": {"type": "line", "strokeWidth": 1, "interpolate": "monotone"}, "encoding": {"detail": {"field": "i"}}},
  {"transform": [{"filter": "datum.k==='f'"}], "mark": {"type": "line", "strokeWidth": 1.8, "interpolate": "monotone"},
   "encoding": {"x": {"field": "e", "type": "quantitative", "scale": {"domain": [55.1, 0], "nice": false, "zero": false}, "axis": {"orient": "bottom", "values": [50, 40, 30, 20, 10, 0], "labelPadding": 24, "title": null}},
    "y": {"field": "v", "type": "quantitative", "scale": {"domain": [0, 3.65], "nice": false, "zero": false}, "axis": {"orient": "left", "values": [1, 2, 3], "labels": false, "title": null}}}},
  {"transform": [{"filter": "datum.k==='p'"}], "mark": {"type": "tick", "orient": "vertical", "size": 10, "thickness": 1.2}},
  {"transform": [{"filter": "datum.k==='l'"}], "mark": {"type": "rule", "strokeWidth": 1.6}, "encoding": {"y2": {"field": "v2"}}},
  {"transform": [{"filter": "datum.k==='t'"}], "mark": {"type": "text", "fontSize": 24}, "encoding": {"text": {"field": "t"}}},
  {"transform": [{"filter": "datum.k==='m'"}], "mark": {"type": "text", "fontSize": 32}, "encoding": {"text": {"field": "t"}}}
 ]
}
]
}
